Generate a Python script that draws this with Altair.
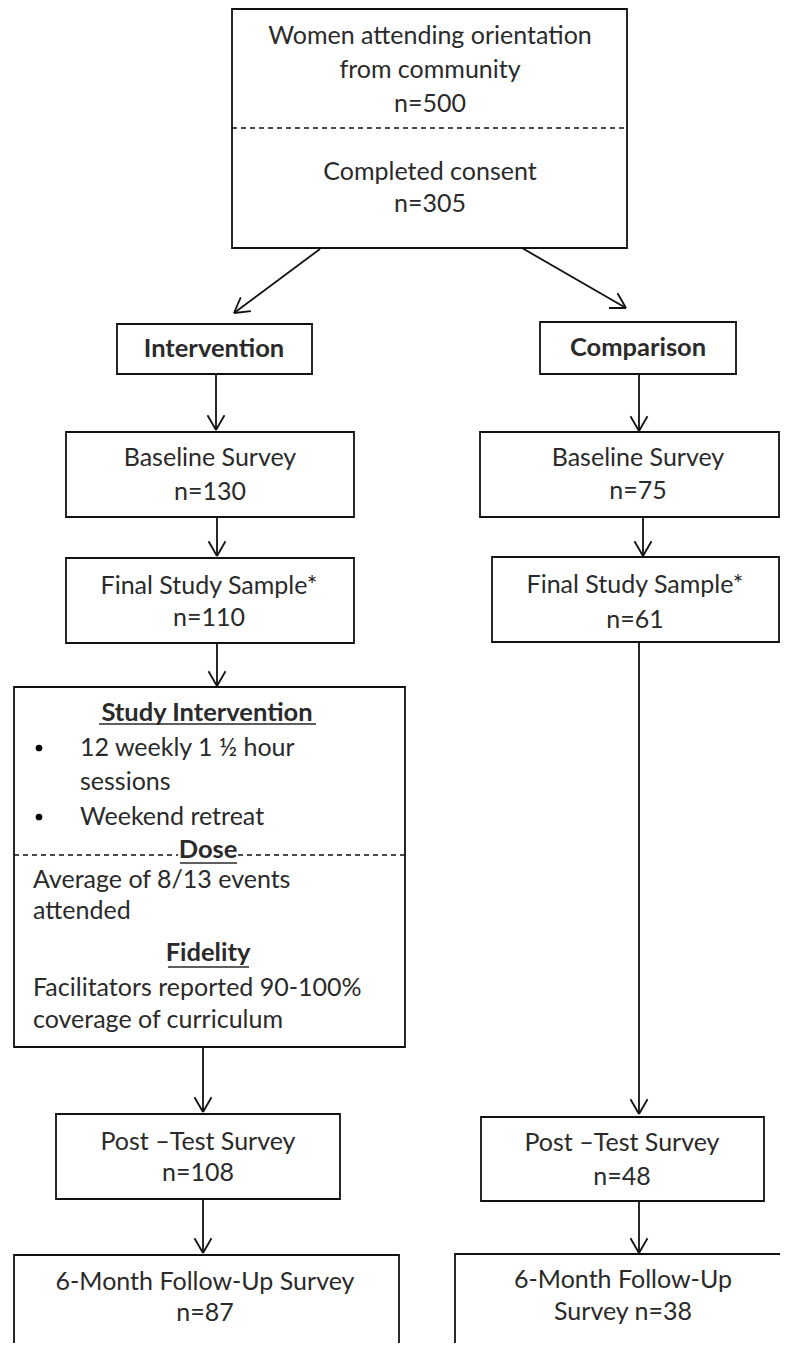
import altair as alt
import pandas as pd
import numpy as np

FONT = "Lato"
FS = 25
FSB = 25.5

# Boxes: x, x2, y, y2 (page pixel coordinates)
box_x = [232, 117, 540, 66, 480, 66, 492, 14, 56, 481, 14, 455]
box_x2 = [627, 312, 736, 354, 779, 354, 779, 405, 340, 764, 399, 800]
box_y = [9, 324, 322, 432, 432, 558, 557, 687, 1114, 1117, 1255, 1254]
box_y2 = [248, 374, 374, 517, 517, 643, 642, 1047, 1199, 1201, 1370, 1370]

# Dashed separators
dash_x = [232, 14, 238]
dash_x2 = [627, 178, 405]
dash_y = [128, 855, 855]

# Arrows: start -> tip
arr_x = [320, 522, 216, 639, 217, 643, 217, 639, 203, 203, 639]
arr_y = [249, 248, 374, 374, 517, 517, 643, 642, 1047, 1200, 1201]
arr_x2 = [234, 626, 216, 639, 217, 643, 217, 639, 203, 203, 639]
arr_y2 = [313, 308, 430, 431, 556, 556, 686, 1114, 1112, 1253, 1253]

# Centered plain text
c_x = [430, 430, 430, 430, 430, 210, 210, 638, 638, 209, 209, 635, 635,
       198, 198, 622, 622, 205, 205, 623, 623]
c_y = [36, 70, 104, 172, 204, 458, 492, 458, 491, 586, 618, 585, 620,
       1142, 1173, 1143, 1177, 1282, 1313, 1280, 1312]
c_text = ["Women attending orientation", "from community", "n=500",
          "Completed consent", "n=305",
          "Baseline Survey", "n=130", "Baseline Survey", "n=75",
          "Final Study Sample*", "n=110", "Final Study Sample*", "n=61",
          "Post \u2013Test Survey", "n=108", "Post \u2013Test Survey", "n=48",
          "6-Month Follow-Up  Survey", "n=87", "6-Month Follow-Up", "Survey  n=38"]

# Left-aligned plain text
l_x = [80, 80, 80, 33, 33, 33, 33]
l_y = [748, 782, 817, 880, 911, 988, 1020]
l_text = ["12 weekly 1 \u00bd  hour", "sessions", "Weekend  retreat",
          "Average of 8/13 events", "attended",
          "Facilitators reported 90-100%", "coverage of curriculum"]

# Bold centered headings
b_x = [214, 638, 207, 208, 208]
b_y = [349, 348, 713, 850, 953]
b_text = ["Intervention", "Comparison", "Study Intervention", "Dose", "Fidelity"]

# Underlines of headings
u_x = [99, 180, 168]
u_x2 = [316, 237, 249]
u_y = [724, 863, 967]

# Bullets
bul_x = [39, 39]
bul_y = [748, 817]

W, H = 772, 1335
xs = alt.Scale(domain=[8, 8 + W], range=[0, W])
ys = alt.Scale(domain=[8, 8 + H], range=[0, H])

boxes = pd.DataFrame({"x": box_x, "x2": box_x2, "y": box_y, "y2": box_y2})
dashes = pd.DataFrame({"x": dash_x, "x2": dash_x2, "y": dash_y})
arrows = pd.DataFrame({"x": arr_x, "y": arr_y, "x2": arr_x2, "y2": arr_y2})

# arrowheads from arrow directions
hx, hy, hx2, hy2 = [], [], [], []
L, ang = 17.0, np.deg2rad(30)
for sx, sy, tx, ty in zip(arr_x, arr_y, arr_x2, arr_y2):
    d = np.arctan2(sy - ty, sx - tx)
    for s in (-1, 1):
        hx.append(tx); hy.append(ty)
        hx2.append(tx + L * np.cos(d + s * ang)); hy2.append(ty + L * np.sin(d + s * ang))
heads = pd.DataFrame({"x": hx, "y": hy, "x2": hx2, "y2": hy2})

ctext = pd.DataFrame({"x": c_x, "y": c_y, "t": c_text})
ltext = pd.DataFrame({"x": l_x, "y": l_y, "t": l_text})
btext = pd.DataFrame({"x": b_x, "y": b_y, "t": b_text})
ulines = pd.DataFrame({"x": u_x, "x2": u_x2, "y": u_y})
bullets = pd.DataFrame({"x": bul_x, "y": bul_y})

X = lambda: alt.X("x:Q", scale=xs, axis=None)
Y = lambda: alt.Y("y:Q", scale=ys, axis=None)

lw = 1.8
ink = "#111111"
txt = "#2a2a2a"

rects = alt.Chart(boxes).mark_rect(fill="white", stroke=ink, strokeWidth=lw).encode(
    x=X(), x2="x2:Q", y=Y(), y2="y2:Q")
dash = alt.Chart(dashes).mark_rule(color=ink, strokeWidth=1.6, strokeDash=[5, 4]).encode(
    x=X(), x2="x2:Q", y=Y())
arr = alt.Chart(arrows).mark_rule(color=ink, strokeWidth=lw).encode(
    x=X(), y=Y(), x2="x2:Q", y2="y2:Q")
hd = alt.Chart(heads).mark_rule(color=ink, strokeWidth=lw).encode(
    x=X(), y=Y(), x2="x2:Q", y2="y2:Q")
ct = alt.Chart(ctext).mark_text(font=FONT, fontSize=FS, color=txt, align="center",
                                baseline="middle").encode(x=X(), y=Y(), text="t:N")
lt = alt.Chart(ltext).mark_text(font=FONT, fontSize=FS, color=txt, align="left",
                                baseline="middle").encode(x=X(), y=Y(), text="t:N")
bt = alt.Chart(btext).mark_text(font=FONT, fontSize=FSB, color=txt, align="center",
                                baseline="middle", fontWeight="bold").encode(x=X(), y=Y(), text="t:N")
ul = alt.Chart(ulines).mark_rule(color=txt, strokeWidth=1.6).encode(x=X(), x2="x2:Q", y=Y())
bu = alt.Chart(bullets).mark_circle(color="black", size=45, opacity=1).encode(x=X(), y=Y())

chart = alt.layer(rects, dash, arr, hd, ct, lt, bt, ul, bu).properties(
    width=W, height=H, padding=0,
    autosize=alt.AutoSizeParams(type="fit", contains="padding"),
).configure_view(stroke=None)

chart.save("out.html", embed_options={"renderer": "svg", "actions": False})
